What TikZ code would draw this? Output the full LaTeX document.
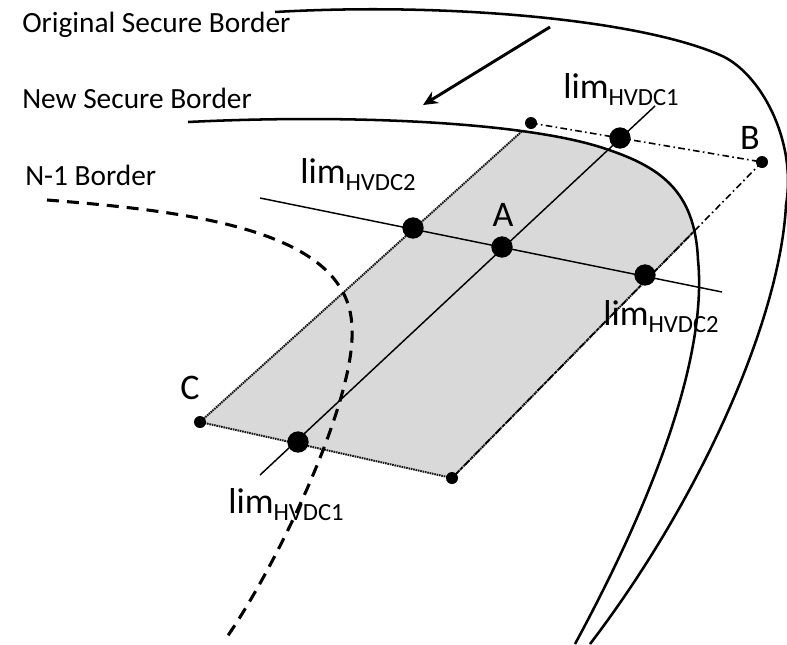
\documentclass[tikz,border=0pt]{standalone}
\usepackage{fontspec}
\setmainfont{Carlito}
\usetikzlibrary{arrows.meta}
\definecolor{regiongrey}{HTML}{D9D9D9}
\newcommand{\limlab}[1]{lim\raisebox{-5.5pt}{\fontsize{18.5}{18.5}\selectfont HVDC#1}}
\begin{document}
\begin{tikzpicture}[x=0.75pt,y=-0.75pt,
  border/.style={line width=1.9pt},
  limline/.style={line width=1.1pt},
  nborder/.style={line width=2.3pt, dash pattern=on 9pt off 6pt},
  dashdot/.style={line width=1.2pt, dash pattern=on 5pt off 2.5pt on 1.2pt off 2.5pt},
  gedge/.style={line width=1.5pt, dash pattern=on 1.2pt off 0.6pt, draw=black!90},
  bigdot/.style={circle, fill=black, inner sep=0pt, minimum size=16pt},
  smalldot/.style={circle, fill=black, inner sep=0pt, minimum size=9pt},
  lbl/.style={inner sep=0pt, font=\fontsize{22}{26}\selectfont},
  letter/.style={inner sep=0pt, font=\fontsize{27}{30}\selectfont},
]
\useasboundingbox (0,0) rectangle (787,644);

% parallelogram corners
\coordinate (TL) at (531,123);
\coordinate (B) at (762,162);
\coordinate (BR) at (452,478);
\coordinate (C) at (200,422);

% grey secure region
\begin{scope}
  \clip (188,122) .. controls (350,114) and (520,122) .. (600,147)
        .. controls (660,166) and (695,190) .. (698,260)
        .. controls (705,330) and (680,450) .. (575,644)
        -- (0,644) -- (0,122) -- cycle;
  \fill[regiongrey] (C) -- (TL) -- (B) -- (BR) -- cycle;
  \draw[gedge] (C) -- (TL);
  \draw[gedge] (B) -- (BR);
  \draw[gedge] (C) -- (BR);
\end{scope}

% dash-dot outer limits
\draw[dashdot] (TL) -- (B);
\draw[dashdot] (B) -- (BR);

% borders
\draw[border] (275,12) .. controls (450,2) and (640,20) .. (720,55)
      .. controls (760,72) and (797,140) .. (786,205)
      .. controls (780,320) and (700,500) .. (590,644);
\draw[border] (188,122) .. controls (350,114) and (520,122) .. (600,147)
      .. controls (660,166) and (695,190) .. (698,260)
      .. controls (705,330) and (680,450) .. (575,644);
\draw[nborder] (47,200) .. controls (200,212) and (352,232) .. (352,330)
      .. controls (355,400) and (280,560) .. (227,637);

% arrow
\coordinate (arrS) at (550,27);
\coordinate (arrE) at (423,105);
\draw[line width=2.2pt, -{Stealth[length=11pt, width=10pt]}] (arrS) -- (arrE);

% HVDC limit lines
\coordinate (h1s) at (260,475);
\coordinate (h1e) at (655,106);
\coordinate (h2s) at (260,198);
\coordinate (h2e) at (722,292);
\draw[limline] (h1s) -- (h1e);
\draw[limline] (h2s) -- (h2e);

% dots
\node[smalldot] (TLd) at (TL) {};
\node[smalldot] (Bd) at (B) {};
\node[smalldot] (BRd) at (BR) {};
\node[smalldot] (Cd) at (C) {};
\node[bigdot] (Ad) at (502,247) {};
\node[bigdot] (L1t) at (620,138) {};
\node[bigdot] (L1b) at (298,442) {};
\node[bigdot] (L2l) at (413,228) {};
\node[bigdot] (L2r) at (645,275) {};

% labels
\node[lbl, anchor=base west] (tOrig) at (22,32) {Original Secure Border};
\node[lbl, anchor=base west] (tNew) at (22,108) {New Secure Border};
\node[lbl, anchor=base west] (tN1) at (25,185) {N-1 Border};
\node[letter] (tA) at (503,215) {A};
\node[letter] (tB) at (750,138) {B};
\node[letter] (tC) at (190,388) {C};
\node[letter, anchor=base west] (lim1t) at (563,98) {\limlab{1}};
\node[letter, anchor=base west] (lim2l) at (300,183) {\limlab{2}};
\node[letter, anchor=base west] (lim2r) at (603,325) {\limlab{2}};
\node[letter, anchor=base west] (lim1b) at (228,513) {\limlab{1}};
\end{tikzpicture}
\end{document}
